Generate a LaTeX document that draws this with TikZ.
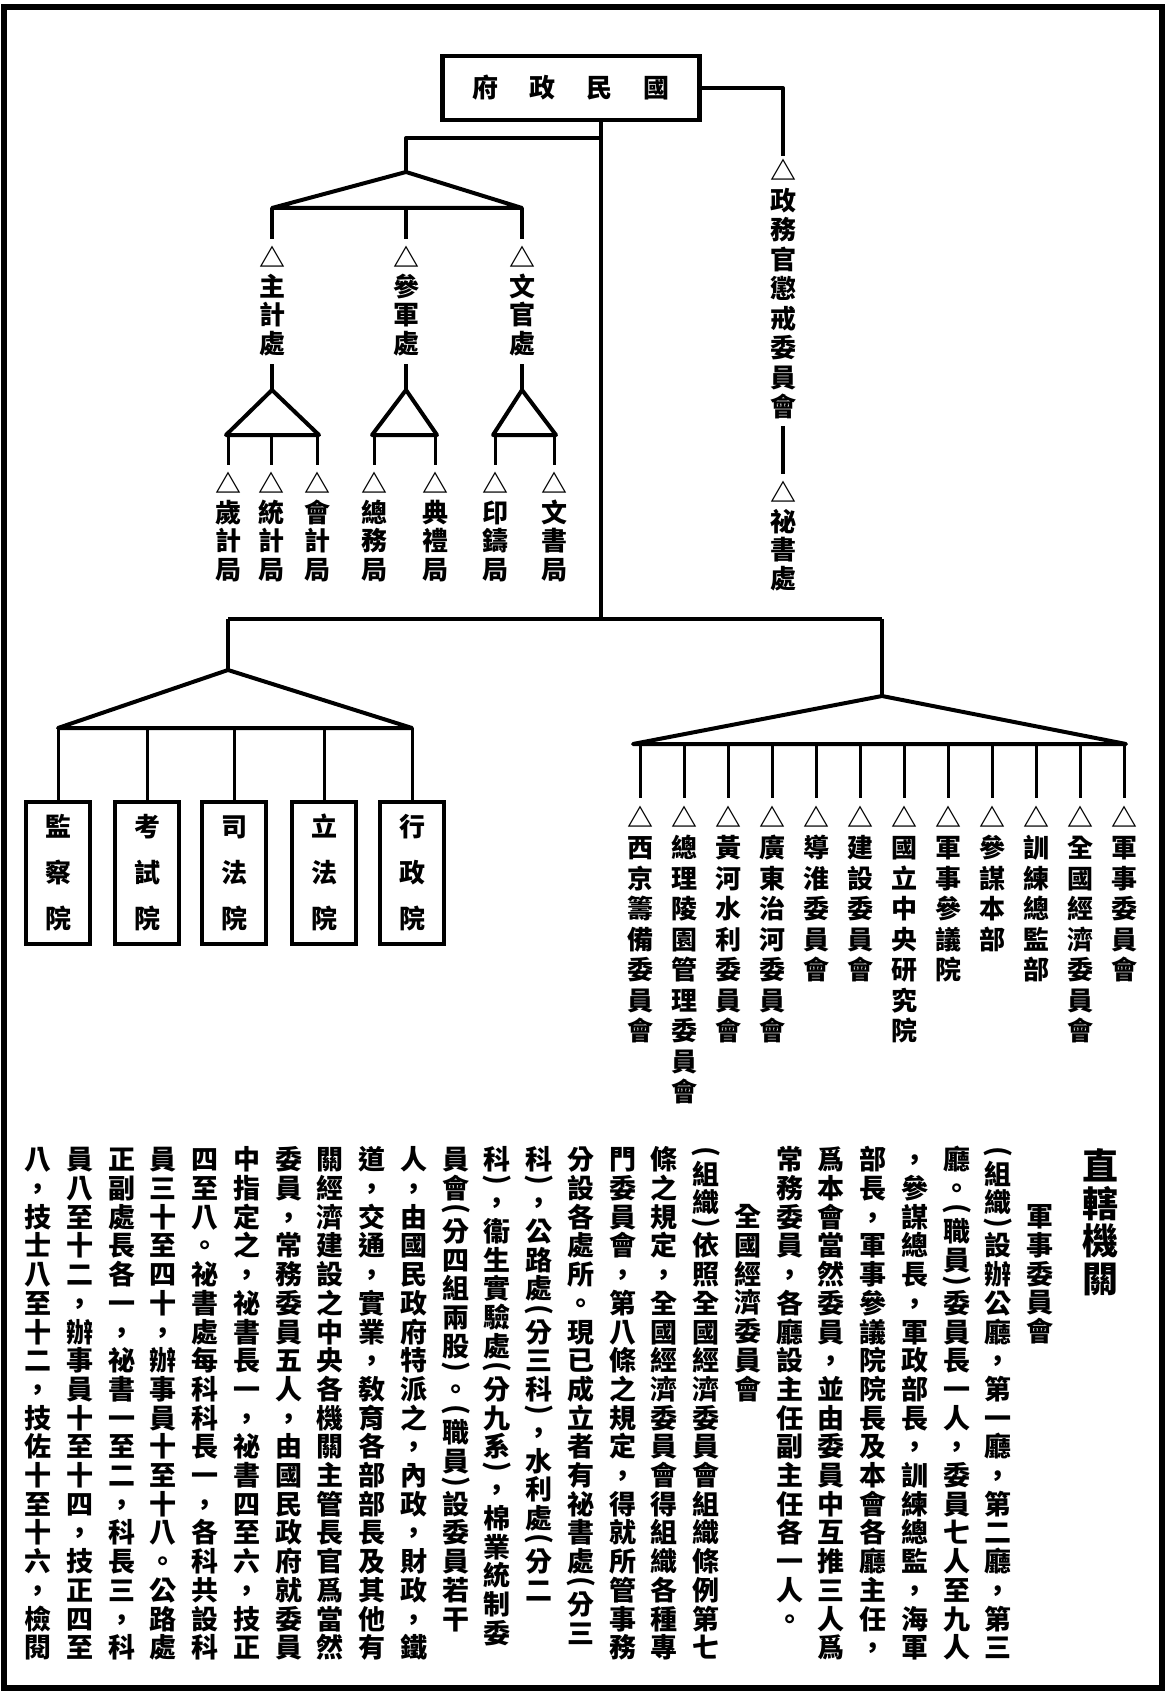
\documentclass[tikz,border=0pt]{standalone}
\usepackage{fontspec}
\usepackage{graphicx}
\newfontfamily\cjk{Noto Sans CJK TC}
\usepackage{tikz}

\newlength\vtpitch
\def\vtend{vtend}
\newcommand\vtext[2][28.7pt]{\setlength\vtpitch{#1}\vbox{\offinterlineskip\vtloop#2\vtend}}
\def\vtloop#1{\ifx#1\vtend\else\vtcell{#1}\expandafter\vtloop\fi}
\def\vtcell#1{\ifnum`#1=`( \vthalf{#1}\else\ifnum`#1=`) \vthalf{#1}\else\vtfull{#1}\fi\fi}
\def\vtfull#1{\hbox to 1.1em{\hss\vrule width0pt height\dimexpr.5\vtpitch+.38em\relax depth\dimexpr.5\vtpitch-.38em\relax#1\hss}}
\def\vthalf#1{\hbox to 1.1em{\hss\vrule width0pt height.25\vtpitch depth.25\vtpitch\raisebox{-.29em}[0pt][0pt]{\rotatebox[origin=c]{-90}{#1}}\hss}}
\newcommand\gap{\hspace{31pt}}

\tikzset{
  conn/.style={line width=4pt, line join=round},
  thin conn/.style={line width=3pt},
  vlab/.style={inner sep=0pt, anchor=north, font=\cjk\bfseries\fontsize{26}{26}\selectfont},
  para/.style={inner sep=0pt, anchor=north, font=\cjk\bfseries\fontsize{27}{27}\selectfont},
  govbox/.style={draw, line width=4.5pt, minimum width=257pt, minimum height=64pt, inner sep=0pt, font=\cjk\bfseries\fontsize{26}{26}\selectfont},
  yuanbox/.style={draw, line width=4.5pt, minimum width=64pt, minimum height=142pt, inner sep=0pt, font=\cjk\bfseries\fontsize{26}{26}\selectfont}
}

\begin{document}
\begin{tikzpicture}[x=1pt,y=-1pt]
\useasboundingbox (0,0) rectangle (1167,1693);
\draw[line width=6pt] (4,7) rectangle (1162,1688);

\node[govbox] (gov) at (571,88) {府\gap 政\gap 民\gap 國};

\node[vlab] (chengjie) at (783,156) {\vtext[29.5pt]{△政務官懲戒委員會}};
\node[vlab] (mishu) at (783,478) {\vtext{△祕書處}};

\node[vlab] (zhuji) at (272,243) {\vtext{△主計處}};
\node[vlab] (canjun) at (406,243) {\vtext{△參軍處}};
\node[vlab] (wenguan) at (522,243) {\vtext{△文官處}};

\node[vlab] (suiji) at (228,469) {\vtext{△歲計局}};
\node[vlab] (tongji) at (271,469) {\vtext{△統計局}};
\node[vlab] (kuaiji) at (317,469) {\vtext{△會計局}};
\node[vlab] (zongwu) at (374,469) {\vtext{△總務局}};
\node[vlab] (dianli) at (435,469) {\vtext{△典禮局}};
\node[vlab] (yinzhu) at (495,469) {\vtext{△印鑄局}};
\node[vlab] (wenshu) at (554,469) {\vtext{△文書局}};

\node[yuanbox] (jiancha) at (58,873) {\vtext[46pt]{監察院}};
\node[yuanbox] (kaoshi) at (147,873) {\vtext[46pt]{考試院}};
\node[yuanbox] (sifa) at (234,873) {\vtext[46pt]{司法院}};
\node[yuanbox] (lifa) at (324,873) {\vtext[46pt]{立法院}};
\node[yuanbox] (xingzheng) at (412,873) {\vtext[46pt]{行政院}};

\node[vlab] (org-1) at (1124,802) {\vtext[30.5pt]{△軍事委員會}};
\node[vlab] (org-2) at (1080,802) {\vtext[30.5pt]{△全國經濟委員會}};
\node[vlab] (org-3) at (1036,802) {\vtext[30.5pt]{△訓練總監部}};
\node[vlab] (org-4) at (992,802) {\vtext[30.5pt]{△參謀本部}};
\node[vlab] (org-5) at (948,802) {\vtext[30.5pt]{△軍事參議院}};
\node[vlab] (org-6) at (904,802) {\vtext[30.5pt]{△國立中央研究院}};
\node[vlab] (org-7) at (860,802) {\vtext[30.5pt]{△建設委員會}};
\node[vlab] (org-8) at (816,802) {\vtext[30.5pt]{△導淮委員會}};
\node[vlab] (org-9) at (772,802) {\vtext[30.5pt]{△廣東治河委員會}};
\node[vlab] (org-10) at (728,802) {\vtext[30.5pt]{△黃河水利委員會}};
\node[vlab] (org-11) at (684,802) {\vtext[30.5pt]{△總理陵園管理委員會}};
\node[vlab] (org-12) at (640,802) {\vtext[30.5pt]{△西京籌備委員會}};

\coordinate (hub) at (601,619);
\coordinate (low-l) at (228,619);
\coordinate (low-r) at (882,619);
\coordinate (up-turn) at (406,138);
\coordinate (up-apex) at (406,172);
\coordinate (up-l) at (272,208);
\coordinate (up-r) at (522,208);
\coordinate (zhuji-apex) at (272,390);
\coordinate (zhuji-l) at (226,435);
\coordinate (zhuji-r) at (319,435);
\coordinate (canjun-apex) at (406,390);
\coordinate (canjun-l) at (372,435);
\coordinate (canjun-r) at (437,435);
\coordinate (wenguan-apex) at (522,390);
\coordinate (wenguan-l) at (493,435);
\coordinate (wenguan-r) at (556,435);
\coordinate (yuan-apex) at (228,670);
\coordinate (yuan-l) at (58,728);
\coordinate (yuan-r) at (412,728);
\coordinate (org-apex) at (882,696);
\coordinate (org-l) at (633,744);
\coordinate (org-r) at (1126,744);

\draw[conn] (gov.east) -| (chengjie.north);
\draw[conn, shorten <=4pt, shorten >=4pt] (chengjie) -- (mishu);
\draw[conn, line width=4.5pt] (gov.south -| hub) -- (hub);
\draw[conn] (up-turn -| hub) -- (up-turn) -- (up-apex);
\draw[conn] (up-l) -- (up-apex) -- (up-r) -- cycle;
\draw[conn, shorten >=4pt] (up-l) -- (zhuji.north);
\draw[conn, shorten >=4pt] (canjun.north |- up-l) -- (canjun.north);
\draw[conn, shorten >=4pt] (up-r) -- (wenguan.north);

\draw[conn, shorten <=6pt] (zhuji.south) -- (zhuji-apex);
\draw[conn, shorten <=6pt] (canjun.south) -- (canjun-apex);
\draw[conn, shorten <=6pt] (wenguan.south) -- (wenguan-apex);
\draw[conn] (zhuji-l) -- (zhuji-apex) -- (zhuji-r) -- cycle;
\draw[conn] (canjun-l) -- (canjun-apex) -- (canjun-r) -- cycle;
\draw[conn] (wenguan-l) -- (wenguan-apex) -- (wenguan-r) -- cycle;
\draw[thin conn, shorten >=4pt] (suiji.north |- zhuji-l) -- (suiji.north);
\draw[thin conn, shorten >=4pt] (tongji.north |- zhuji-l) -- (tongji.north);
\draw[thin conn, shorten >=4pt] (kuaiji.north |- zhuji-l) -- (kuaiji.north);
\draw[thin conn, shorten >=4pt] (zongwu.north |- canjun-l) -- (zongwu.north);
\draw[thin conn, shorten >=4pt] (dianli.north |- canjun-l) -- (dianli.north);
\draw[thin conn, shorten >=4pt] (yinzhu.north |- wenguan-l) -- (yinzhu.north);
\draw[thin conn, shorten >=4pt] (wenshu.north |- wenguan-l) -- (wenshu.north);

\draw[conn] (low-l) -- (low-r);
\draw[conn] (low-l) -- (yuan-apex);
\draw[conn] (yuan-l) -- (yuan-apex) -- (yuan-r) -- cycle;
\draw[thin conn] (jiancha.north |- yuan-l) -- (jiancha.north);
\draw[thin conn] (kaoshi.north |- yuan-l) -- (kaoshi.north);
\draw[thin conn] (sifa.north |- yuan-l) -- (sifa.north);
\draw[thin conn] (lifa.north |- yuan-l) -- (lifa.north);
\draw[thin conn] (xingzheng.north |- yuan-l) -- (xingzheng.north);

\draw[conn] (low-r) -- (org-apex);
\draw[conn] (org-l) -- (org-apex) -- (org-r) -- cycle;
\draw[thin conn, shorten >=4pt] (org-1.north |- org-l) -- (org-1.north);
\draw[thin conn, shorten >=4pt] (org-2.north |- org-l) -- (org-2.north);
\draw[thin conn, shorten >=4pt] (org-3.north |- org-l) -- (org-3.north);
\draw[thin conn, shorten >=4pt] (org-4.north |- org-l) -- (org-4.north);
\draw[thin conn, shorten >=4pt] (org-5.north |- org-l) -- (org-5.north);
\draw[thin conn, shorten >=4pt] (org-6.north |- org-l) -- (org-6.north);
\draw[thin conn, shorten >=4pt] (org-7.north |- org-l) -- (org-7.north);
\draw[thin conn, shorten >=4pt] (org-8.north |- org-l) -- (org-8.north);
\draw[thin conn, shorten >=4pt] (org-9.north |- org-l) -- (org-9.north);
\draw[thin conn, shorten >=4pt] (org-10.north |- org-l) -- (org-10.north);
\draw[thin conn, shorten >=4pt] (org-11.north |- org-l) -- (org-11.north);
\draw[thin conn, shorten >=4pt] (org-12.north |- org-l) -- (org-12.north);

\node[para, font=\cjk\bfseries\fontsize{36}{36}\selectfont] (title) at (1100,1147) {\vtext[37.5pt]{直轄機關}};
\node[para] (col-24) at (1040,1202) {\vtext{軍事委員會}};
\node[para] (col-23) at (998,1145) {\vtext{(組織)設辦公廳，第一廳，第二廳，第三}};
\node[para] (col-22) at (957,1145) {\vtext{廳。(職員)委員長一人，委員七人至九人}};
\node[para] (col-21) at (915,1145) {\vtext{，參謀總長，軍政部長，訓練總監，海軍}};
\node[para] (col-20) at (873,1145) {\vtext{部長，軍事參議院院長及本會各廳主任，}};
\node[para] (col-19) at (831,1145) {\vtext{爲本會當然委員，並由委員中互推三人爲}};
\node[para] (col-18) at (790,1145) {\vtext{常務委員，各廳設主任副主任各一人。}};
\node[para] (col-17) at (748,1202) {\vtext{全國經濟委員會}};
\node[para] (col-16) at (706,1145) {\vtext{(組織)依照全國經濟委員會組織條例第七}};
\node[para] (col-15) at (664,1145) {\vtext{條之規定，全國經濟委員會得組織各種專}};
\node[para] (col-14) at (623,1145) {\vtext{門委員會，第八條之規定，得就所管事務}};
\node[para] (col-13) at (581,1145) {\vtext{分設各處所。現已成立者有祕書處(分三}};
\node[para] (col-12) at (539,1145) {\vtext{科)，公路處(分三科)，水利處(分二}};
\node[para] (col-11) at (497,1145) {\vtext{科)，衞生實驗處(分九系)，棉業統制委}};
\node[para] (col-10) at (456,1145) {\vtext{員會(分四組兩股)。(職員)設委員若干}};
\node[para] (col-9) at (414,1145) {\vtext{人，由國民政府特派之，內政，財政，鐵}};
\node[para] (col-8) at (372,1145) {\vtext{道，交通，實業，敎育各部部長及其他有}};
\node[para] (col-7) at (330,1145) {\vtext{關經濟建設之中央各機關主管長官爲當然}};
\node[para] (col-6) at (289,1145) {\vtext{委員，常務委員五人，由國民政府就委員}};
\node[para] (col-5) at (247,1145) {\vtext{中指定之，祕書長一，祕書四至六，技正}};
\node[para] (col-4) at (205,1145) {\vtext{四至八。祕書處每科科長一，各科共設科}};
\node[para] (col-3) at (163,1145) {\vtext{員三十至四十，辦事員十至十八。公路處}};
\node[para] (col-2) at (122,1145) {\vtext{正副處長各一，祕書一至二，科長三，科}};
\node[para] (col-1) at (80,1145) {\vtext{員八至十二，辦事員十至十四，技正四至}};
\node[para] (col-0) at (38,1145) {\vtext{八，技士八至十二，技佐十至十六，檢閱}};
\end{tikzpicture}
\end{document}
